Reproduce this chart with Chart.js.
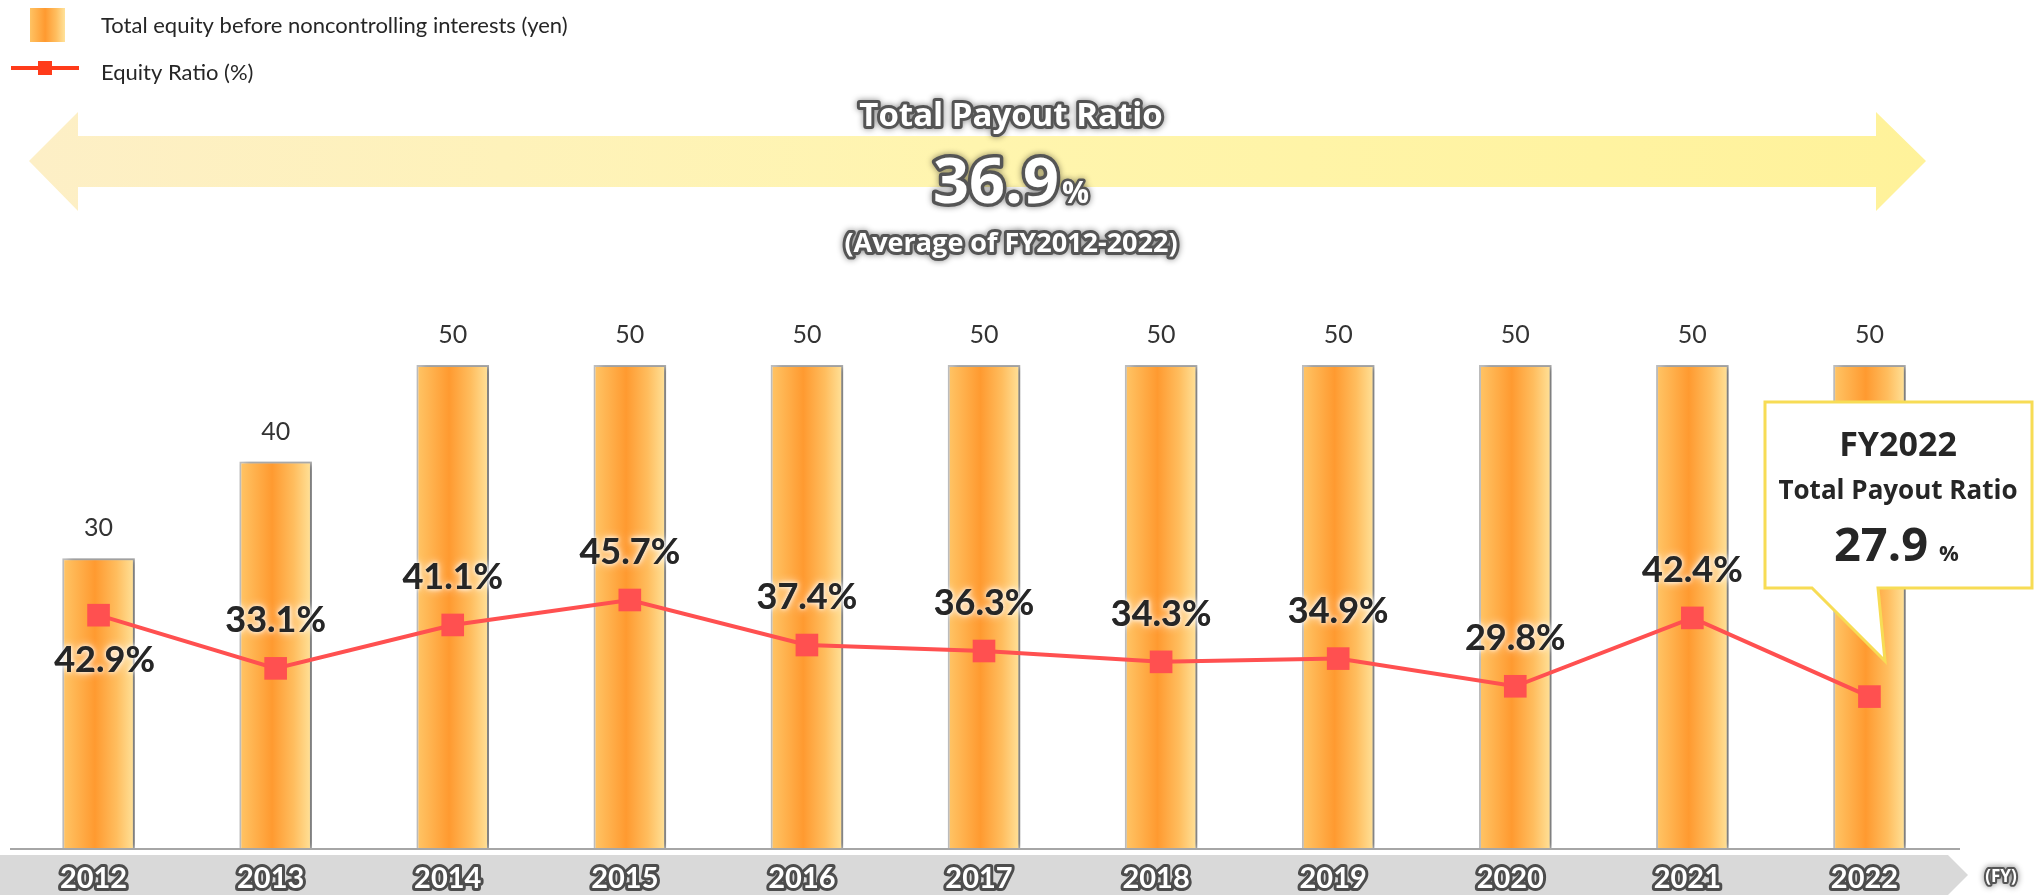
<!DOCTYPE html>
<html>
<head>
<meta charset="utf-8">
<title>Total Payout Ratio</title>
<script src="https://cdn.jsdelivr.net/npm/chart.js@4.4.0/dist/chart.umd.min.js"></script>
<style>
  html, body { margin: 0; padding: 0; background: #fff; overflow: hidden; }
  canvas { display: block; }
</style>
</head>
<body>
<canvas id="payout" width="2036" height="895"></canvas>
<script>
const years = ['2012', '2013', '2014', '2015', '2016', '2017', '2018', '2019', '2020', '2021', '2022'];
const equityValues = [30, 40, 50, 50, 50, 50, 50, 50, 50, 50, 50];
const ratioValues = [42.9, 33.1, 41.1, 45.7, 37.4, 36.3, 34.3, 34.9, 29.8, 42.4, 27.9];
const seriesNames = ['Total equity before noncontrolling interests (yen)', 'Equity Ratio (%)'];
const bannerTitle = 'Total Payout Ratio';
const averagePayout = 36.9;
const averageNote = '(Average of FY2012-2022)';
const calloutYear = 'FY2022';
const labelBelow = [0];   // 2012 label sits under its marker

const BAR_HALF = 36;
const LINE_RED = '#ff5050';

function barGradient(ctx, x, half) {
    const g = ctx.createLinearGradient(x - half, 0, x + half, 0);
    g.addColorStop(0, '#ffc566');
    g.addColorStop(0.45, '#ff9a30');
    g.addColorStop(0.75, '#ffbd5e');
    g.addColorStop(1, '#ffe29a');
    return g;
}

function barFill(c) {
    if (c.type !== 'data' || !c.chart.scales.x) return '#ffa940';
    const x = c.chart.scales.x.getPixelForValue(c.dataIndex);
    if (!Number.isFinite(x)) return '#ffa940';
    return barGradient(c.chart.ctx, x, BAR_HALF);
}

// white text with dark outline (banner, axis)
function outlined(ctx, text, x, y, font, lw) {
    ctx.save();
    ctx.font = font;
    ctx.lineJoin = 'round';
    ctx.shadowColor = 'rgba(0,0,0,0.45)';
    ctx.shadowBlur = 6;
    ctx.strokeStyle = '#555';
    ctx.lineWidth = lw;
    ctx.strokeText(text, x, y);
    ctx.shadowColor = 'transparent';
    ctx.fillStyle = '#fff';
    ctx.fillText(text, x, y);
    ctx.restore();
}

const decor = {
    id: 'decor',
    beforeDraw(chart) {
        const ctx = chart.ctx;
        const area = chart.chartArea;
        ctx.save();
        ctx.fillStyle = '#fff';
        ctx.fillRect(0, 0, chart.width, chart.height);

        // grey band under the year labels
        ctx.fillStyle = '#d9d9d9';
        ctx.beginPath();
        ctx.moveTo(0, 855);
        ctx.lineTo(1948, 855);
        ctx.lineTo(1968, 875);
        ctx.lineTo(1948, 895);
        ctx.lineTo(0, 895);
        ctx.closePath();
        ctx.fill();

        // axis line
        ctx.strokeStyle = '#a6a6a6';
        ctx.lineWidth = 2;
        ctx.beginPath();
        ctx.moveTo(area.left, area.bottom + 1);
        ctx.lineTo(area.right + 2, area.bottom + 1);
        ctx.stroke();

        // legend
        ctx.fillStyle = barGradient(ctx, 47, 18);
        ctx.fillRect(30, 8, 35, 34);
        ctx.strokeStyle = '#ff3b1a';
        ctx.lineWidth = 4;
        ctx.beginPath();
        ctx.moveTo(11, 68);
        ctx.lineTo(79, 68);
        ctx.stroke();
        ctx.fillStyle = '#ff3b1a';
        ctx.fillRect(38, 61, 14, 14);
        ctx.fillStyle = '#262626';
        ctx.font = '22px Lato';
        ctx.textAlign = 'left';
        ctx.textBaseline = 'alphabetic';
        ctx.fillText(seriesNames[0], 101, 33);
        ctx.fillText(seriesNames[1], 101, 80);

        // double arrow banner
        const ag = ctx.createLinearGradient(29, 0, 1926, 0);
        ag.addColorStop(0, '#fdefc6');
        ag.addColorStop(0.5, '#fff5ae');
        ag.addColorStop(1, '#fff29a');
        ctx.fillStyle = ag;
        ctx.beginPath();
        ctx.moveTo(29, 161);
        ctx.lineTo(78, 112);
        ctx.lineTo(78, 136);
        ctx.lineTo(1876, 136);
        ctx.lineTo(1876, 112);
        ctx.lineTo(1926, 161);
        ctx.lineTo(1876, 211);
        ctx.lineTo(1876, 187);
        ctx.lineTo(78, 187);
        ctx.lineTo(78, 211);
        ctx.closePath();
        ctx.fill();

        ctx.textAlign = 'center';
        outlined(ctx, bannerTitle, 1011, 126, 'bold 33px "Open Sans"', 6);
        outlined(ctx, averageNote, 1011, 252, 'bold 27px "Open Sans"', 6);
        const big = 'bold 63px "Open Sans"', small = 'bold 30px "Open Sans"';
        const num = averagePayout.toFixed(1);
        ctx.font = big;
        const w1 = ctx.measureText(num).width;
        ctx.font = small;
        const w2 = ctx.measureText('%').width;
        const x0 = 1011 - (w1 + w2 + 3) / 2;
        ctx.textAlign = 'left';
        outlined(ctx, num, x0, 203, big, 7);
        outlined(ctx, '%', x0 + w1 + 3, 203, small, 5);

        ctx.textAlign = 'center';
        ctx.textBaseline = 'middle';
        outlined(ctx, '(FY)', 2001, 877, 'bold 17px "Open Sans"', 4);
        ctx.restore();
        ctx.lineJoin = 'round';
    },
    beforeDatasetDraw(chart, args) {
        if (args.index !== 0) return;
        const ctx = chart.ctx;
        ctx.save();
        ctx.shadowColor = 'rgba(0,0,0,0.35)';
        ctx.shadowBlur = 6;
        ctx.shadowOffsetX = 5;
        ctx.shadowOffsetY = 0;
    },
    afterDatasetDraw(chart, args) {
        if (args.index === 0) chart.ctx.restore();
    },
    afterDatasetsDraw(chart) {
        const ctx = chart.ctx;
        const bars = chart.getDatasetMeta(0).data;
        const points = chart.getDatasetMeta(1).data;
        ctx.save();
        ctx.textAlign = 'center';
        ctx.textBaseline = 'alphabetic';

        // bar values
        ctx.fillStyle = '#333';
        ctx.font = '25px Lato';
        bars.forEach((b, i) => ctx.fillText(String(equityValues[i]), b.x, b.y - 22));

        // ratio labels with white glow
        ctx.font = 'bold 36px Lato';
        ctx.fillStyle = '#262626';
        ctx.shadowColor = '#fff';
        points.forEach((p, i) => {
            if (i === points.length - 1) return;
            const txt = ratioValues[i].toFixed(1) + '%';
            const y = labelBelow.includes(i) ? p.y + 57 : p.y - 36;
            const x = labelBelow.includes(i) ? p.x + 6 : p.x;
            ctx.shadowBlur = 10;
            ctx.fillText(txt, x, y);
            ctx.shadowBlur = 4;
            ctx.fillText(txt, x, y);
        });
        ctx.shadowColor = 'transparent';

        // FY2022 callout
        ctx.fillStyle = '#fff';
        ctx.strokeStyle = '#f7dc55';
        ctx.lineWidth = 3;
        ctx.lineJoin = 'miter';
        ctx.beginPath();
        ctx.moveTo(1765, 402);
        ctx.lineTo(2032, 402);
        ctx.lineTo(2032, 588);
        ctx.lineTo(1878, 588);
        ctx.lineTo(1885, 661);
        ctx.lineTo(1812, 588);
        ctx.lineTo(1765, 588);
        ctx.closePath();
        ctx.fill();
        ctx.stroke();

        const last = ratioValues[ratioValues.length - 1].toFixed(1);
        ctx.fillStyle = '#262626';
        ctx.font = 'bold 34px "Open Sans"';
        ctx.fillText(calloutYear, 1898, 456);
        ctx.font = 'bold 26px "Open Sans"';
        ctx.fillText(bannerTitle, 1898, 499);
        ctx.textAlign = 'left';
        ctx.font = 'bold 47px "Open Sans"';
        ctx.fillText(last, 1834, 561);
        const lw = ctx.measureText(last).width;
        ctx.font = 'bold 22px "Open Sans"';
        ctx.fillText('%', 1834 + lw + 11, 561);
        ctx.restore();
    }
};

function build() {
    new Chart(document.getElementById('payout'), {
        data: {
            labels: years,
            datasets: [{
                type: 'bar',
                label: seriesNames[0],
                data: equityValues,
                yAxisID: 'y',
                backgroundColor: barFill,
                borderColor: '#bdbdbd',
                borderWidth: 2,
                barPercentage: 0.41,
                categoryPercentage: 1,
                order: 1
            }, {
                type: 'line',
                label: seriesNames[1],
                data: ratioValues,
                yAxisID: 'y2',
                borderColor: LINE_RED,
                borderWidth: 4,
                tension: 0,
                pointStyle: 'rect',
                pointRadius: 16,
                pointBackgroundColor: LINE_RED,
                pointBorderWidth: 0,
                order: 0
            }]
        },
        options: {
            responsive: false,
            animation: false,
            events: [],
            layout: { autoPadding: false, padding: { top: 365, left: 10, right: 78, bottom: 0 } },
            plugins: {
                legend: { display: false },
                tooltip: { enabled: false }
            },
            scales: {
                x: {
                    grid: { display: false, drawTicks: false },
                    border: { display: false },
                    ticks: {
                        color: '#fff',
                        font: { family: 'Lato', weight: 'bold', size: 29 },
                        textStrokeColor: '#4d4d4d',
                        textStrokeWidth: 6,
                        padding: 13,
                        labelOffset: -5,
                        autoSkip: false,
                        maxRotation: 0
                    },
                    afterFit(scale) { scale.height = 47; }
                },
                y: { display: false, min: 0, max: 50 },
                y2: { display: false, min: 0, max: 89 }
            }
        },
        plugins: [decor]
    });
}

Promise.all(['bold 36px Lato', '22px Lato', 'bold 30px "Open Sans"'].map(f => document.fonts.load(f)))
    .then(build, build);
</script>
</body>
</html>
